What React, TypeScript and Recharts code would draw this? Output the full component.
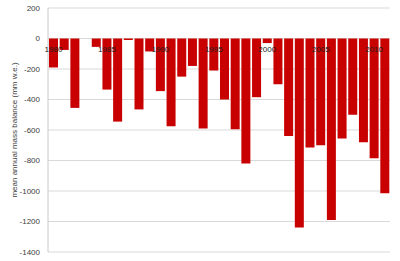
import React from 'react';
import { BarChart, Bar, XAxis, YAxis, CartesianGrid, LabelList } from 'recharts';

const years = [
  1980, 1981, 1982, 1983, 1984, 1985, 1986, 1987, 1988, 1989,
  1990, 1991, 1992, 1993, 1994, 1995, 1996, 1997, 1998, 1999,
  2000, 2001, 2002, 2003, 2004, 2005, 2006, 2007, 2008, 2009,
  2010, 2011,
];
const massBalance = [
  -190, -75, -455, 0, -55, -335, -545, -10, -465, -85,
  -345, -575, -250, -180, -590, -210, -400, -595, -820, -385,
  -30, -300, -640, -1240, -715, -700, -1190, -655, -500, -680,
  -785, -1015,
];
const yTicks = [-1400, -1200, -1000, -800, -600, -400, -200, 0, 200];
const yLabel = 'mean annual mass balance (mm w.e.)';

const data = years.map((year, i) => ({ year, value: massBalance[i] }));

const YearLabel = (props: any) => {
  const vb = props.viewBox || props;
  const x = Number(vb.x ?? props.x);
  const y = Number(vb.y ?? props.y);
  const w = Number(vb.width ?? props.width);
  const h = Number(vb.height ?? props.height);
  const v = props.value;
  if (Number(v) % 5 !== 0) return null;
  const zero = Math.min(y, y + h);
  return (
    <text x={x + w / 2} y={zero + 13} textAnchor="middle" fontSize={8} fill="#222" fontFamily="Liberation Sans, Arial, sans-serif">
      {v}
    </text>
  );
};

const AxisTitle = (props: any) => {
  const vb = props.viewBox || {};
  const cx = vb.x + 14;
  const cy = vb.y + vb.height / 2;
  return (
    <text x={cx} y={cy} transform={`rotate(-90, ${cx}, ${cy})`} textAnchor="middle" dominantBaseline="central" fontSize={8} fill="#404040" fontFamily="Liberation Sans, Arial, sans-serif">
      {yLabel}
    </text>
  );
};

const GridLine = (props: any) => {
  const { x1, x2, y1, y2, index } = props;
  const isZero = yTicks[index] === 0;
  return <line x1={x1} x2={x2} y1={y1} y2={y2} stroke={isZero ? '#b4bccc' : '#d9d9d9'} strokeWidth={1} />;
};

export default function App() {
  return (
    <div style={{ position: 'absolute', left: 0, top: 0, width: 400, height: 261, background: '#fff' }}>
      <BarChart width={400} height={261} data={data} margin={{ top: 8, right: 10, bottom: 9, left: 0 }} barCategoryGap={1}>
        <CartesianGrid vertical={false} stroke="#d9d9d9" />
        <XAxis dataKey="year" hide />
        <YAxis
          width={48}
          domain={[-1400, 200]}
          ticks={yTicks}
          interval={0}
          tickLine={false}
          axisLine={{ stroke: '#c8c8c8' }}
          tick={{ fontSize: 8, fill: '#404040', fontFamily: 'Liberation Sans, Arial, sans-serif' }}
          label={{ content: AxisTitle }}
        />
        <Bar dataKey="value" fill="#c80000" isAnimationActive={false}>
          <LabelList dataKey="year" content={YearLabel} />
        </Bar>
      </BarChart>
    </div>
  );
}
